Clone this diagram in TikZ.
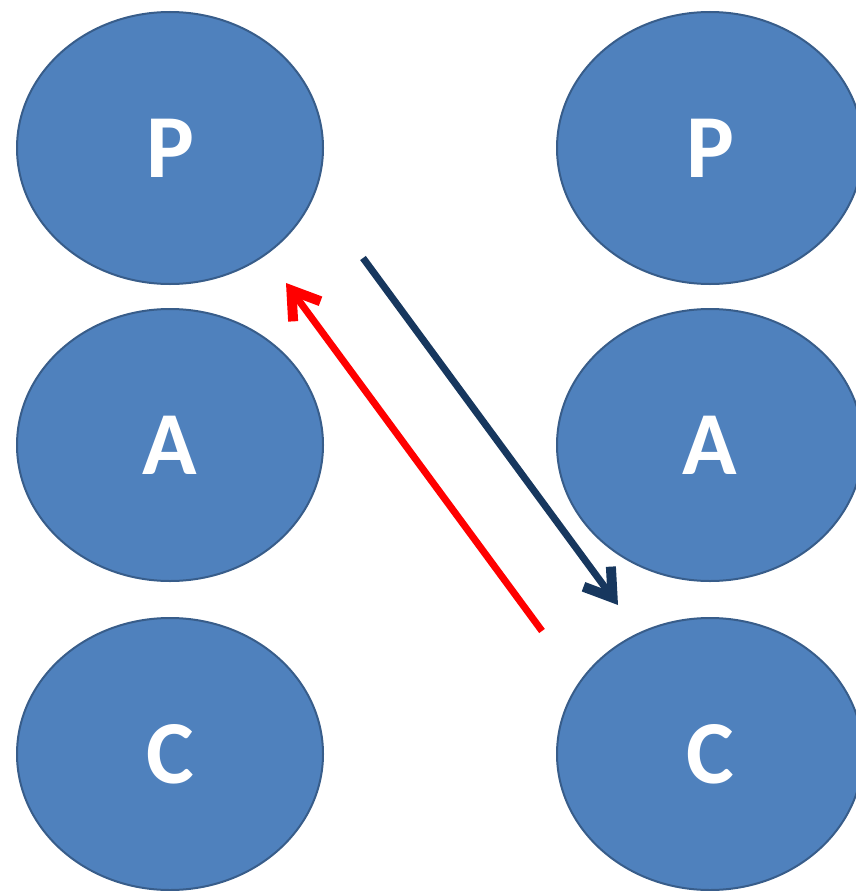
\documentclass[tikz,border=0pt]{standalone}
\usepackage{fontspec}
\setmainfont{Carlito}
\usetikzlibrary{shapes.geometric,arrows.meta}
\definecolor{ballfill}{HTML}{4F81BD}
\definecolor{balledge}{HTML}{385D8A}
\definecolor{navyarrow}{HTML}{17375E}
\definecolor{redarrow}{HTML}{FF0000}
\tikzset{
  ball/.style={ellipse, draw=balledge, line width=2pt, fill=ballfill,
    minimum width=306pt, minimum height=272pt, inner sep=0pt,
    text=white, font=\fontsize{90}{90}\selectfont\bfseries},
  link/.style={line width=7pt,
    -{Straight Barb[length=26pt,width=34pt,line width=10pt,line cap=butt,line join=miter]}}
}
\begin{document}
\begin{tikzpicture}[x=1pt,y=-1pt]
  \useasboundingbox (0,0) rectangle (855,891);
  % left column
  \node[ball] (lp) at (170,148) {P};
  \node[ball] (la) at (170,445) {A};
  \node[ball] (lc) at (170,754) {C};
  % right column
  \node[ball] (rp) at (710,148) {P};
  \node[ball] (ra) at (710,445) {A};
  \node[ball] (rc) at (710,754) {C};
  % arrow end points
  \coordinate (downstart) at (363,258);
  \coordinate (downend) at (618,605);
  \coordinate (upstart) at (542,631);
  \coordinate (upend) at (286,283);
  \draw[link, navyarrow] (downstart) -- (downend);
  \draw[link, redarrow] (upstart) -- (upend);
\end{tikzpicture}
\end{document}
